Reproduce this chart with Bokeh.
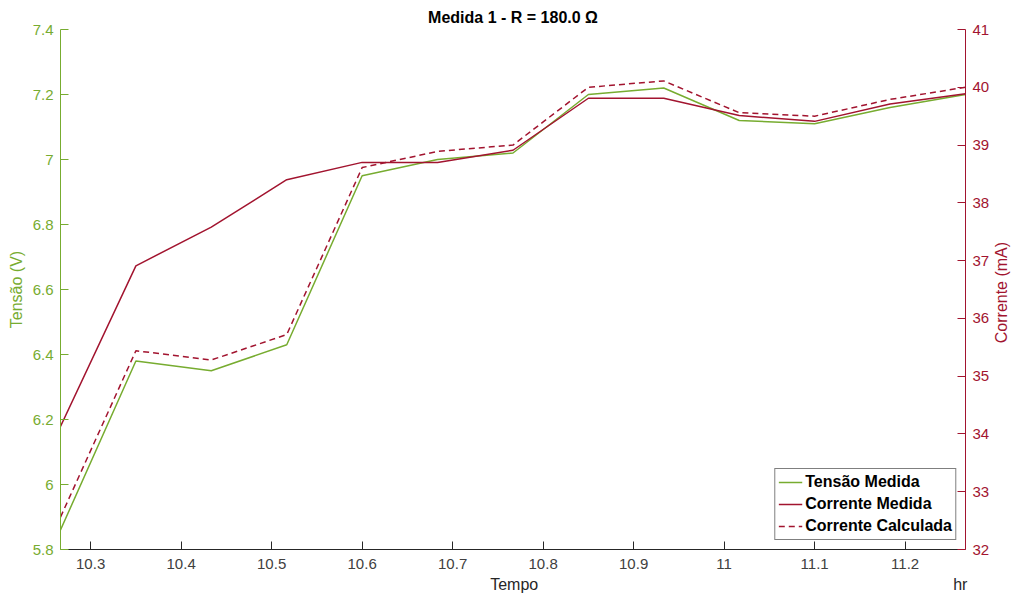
import math
from bokeh.plotting import figure
from bokeh.models import (Range1d, LinearAxis, FixedTicker, NumeralTickFormatter,
                          CustomJSTickFormatter, Legend, LegendItem)
from bokeh.embed import file_html
from bokeh.resources import INLINE

# ---- data ----
tempo = [10.2667, 10.35, 10.4333, 10.5167, 10.6, 10.6833, 10.7667,
         10.85, 10.9333, 11.0167, 11.1, 11.1833, 11.2667]
tensao_medida = [5.86, 6.38, 6.35, 6.43, 6.95, 7.00, 7.02,
                 7.20, 7.22, 7.12, 7.11, 7.16, 7.20]
corrente_medida = [34.13, 36.91, 37.58, 38.40, 38.70, 38.70, 38.91,
                   39.81, 39.81, 39.51, 39.41, 39.71, 39.89]
corrente_calculada = [32.56, 35.44, 35.28, 35.72, 38.61, 38.89, 39.00,
                      40.00, 40.11, 39.56, 39.50, 39.79, 40.00]
x_ticks = [10.3, 10.4, 10.5, 10.6, 10.7, 10.8, 10.9, 11.0, 11.1, 11.2]
v_ticks = [5.8, 6.0, 6.2, 6.4, 6.6, 6.8, 7.0, 7.2, 7.4]
i_ticks = [32, 33, 34, 35, 36, 37, 38, 39, 40, 41]
x_label_texts = ["Tempo", "hr"]
x_label_pos = [10.768, 11.261]
i_label_text = ["Corrente (mA)"]
i_label_pos = [35.57]

GREEN = "#77AC30"
RED = "#A2142F"
DARK = "#262626"
FONT = "Liberation Sans"

p = figure(width=1021, height=599, output_backend="svg", toolbar_location=None,
           x_range=Range1d(10.2667, 11.2667), y_range=Range1d(5.8, 7.4),
           min_border_left=60, min_border_right=56, min_border_top=29,
           min_border_bottom=50, x_axis_type=None, y_axis_type=None)
p.outline_line_color = None
p.background_fill_color = "white"
p.border_fill_color = "white"

p.extra_y_ranges = {"i": Range1d(32, 41)}

# bottom axis (ticks and tick labels)
xax = LinearAxis(ticker=FixedTicker(ticks=x_ticks),
                 formatter=NumeralTickFormatter(format="0.[0]"))
xax.axis_line_color = DARK
xax.major_tick_line_color = DARK
xax.major_tick_in = 8
xax.major_tick_out = 0
xax.minor_tick_line_color = None
xax.major_label_standoff = 9
xax.major_label_text_color = "#404040"
xax.major_label_text_font = FONT
xax.major_label_text_font_size = "15px"
p.add_layout(xax, "below")

# second row below: axis title "Tempo" and unit "hr"
xax2 = LinearAxis(ticker=FixedTicker(ticks=x_label_pos),
                  formatter=CustomJSTickFormatter(
                      args=dict(names=x_label_texts),
                      code="return names[index];"))
xax2.axis_line_color = None
xax2.major_tick_line_color = None
xax2.minor_tick_line_color = None
xax2.major_tick_in = 0
xax2.major_tick_out = 0
xax2.major_label_standoff = 4
xax2.major_label_text_color = DARK
xax2.major_label_text_font = FONT
xax2.major_label_text_font_size = "16px"
p.add_layout(xax2, "below")

# left axis
yax = LinearAxis(ticker=FixedTicker(ticks=v_ticks),
                 formatter=NumeralTickFormatter(format="0.[0]"))
yax.axis_label = "Tensão (V)"
yax.axis_line_color = GREEN
yax.major_tick_line_color = GREEN
yax.major_tick_in = 8
yax.major_tick_out = 0
yax.minor_tick_line_color = None
yax.major_label_standoff = 7
yax.major_label_text_color = GREEN
yax.major_label_text_font = FONT
yax.major_label_text_font_size = "15px"
yax.axis_label_text_font = FONT
yax.axis_label_text_font_size = "16px"
yax.axis_label_text_font_style = "normal"
yax.axis_label_text_color = GREEN
yax.axis_label_standoff = 5
p.add_layout(yax, "left")

# right axis
rax = LinearAxis(y_range_name="i", ticker=FixedTicker(ticks=i_ticks))
rax.axis_line_color = RED
rax.major_tick_line_color = RED
rax.major_tick_in = 8
rax.major_tick_out = 0
rax.minor_tick_line_color = None
rax.major_label_standoff = 7
rax.major_label_text_color = RED
rax.major_label_text_font = FONT
rax.major_label_text_font_size = "15px"
p.add_layout(rax, "right")

# right axis title, drawn as a rotated label reading upward
rax2 = LinearAxis(y_range_name="i", ticker=FixedTicker(ticks=i_label_pos),
                  formatter=CustomJSTickFormatter(
                      args=dict(names=i_label_text),
                      code="return names[index];"))
rax2.axis_line_color = None
rax2.major_tick_line_color = None
rax2.minor_tick_line_color = None
rax2.major_tick_in = 0
rax2.major_tick_out = 0
rax2.major_label_orientation = math.pi / 2
rax2.major_label_standoff = 9
rax2.major_label_text_color = RED
rax2.major_label_text_font = FONT
rax2.major_label_text_font_size = "16px"
p.add_layout(rax2, "right")

# grids
p.xgrid.ticker = FixedTicker(ticks=x_ticks)
p.ygrid.ticker = FixedTicker(ticks=v_ticks)
for g in (p.xgrid, p.ygrid):
    g.grid_line_color = "#dcdcdc"
    g.grid_line_width = 1

# lines
r1 = p.line(tempo, tensao_medida, line_color=GREEN, line_width=1.5)
r2 = p.line(tempo, corrente_medida, line_color=RED, line_width=1.5, y_range_name="i")
r3 = p.line(tempo, corrente_calculada, line_color=RED, line_width=1.5,
            line_dash="6 4", y_range_name="i")

legend = Legend(items=[LegendItem(label="Tensão Medida", renderers=[r1]),
                       LegendItem(label="Corrente Medida", renderers=[r2]),
                       LegendItem(label="Corrente Calculada", renderers=[r3])],
                location="bottom_right")
legend.border_line_color = "black"
legend.border_line_width = 1
legend.background_fill_color = "white"
legend.background_fill_alpha = 1
legend.label_text_font = FONT
legend.label_text_font_size = "16px"
legend.label_text_font_style = "bold"
legend.label_text_color = "black"
legend.glyph_width = 24
legend.glyph_height = 20
legend.label_height = 20
legend.spacing = 2
legend.padding = 3
legend.margin = 9
legend.label_standoff = 3
p.add_layout(legend)

# title
p.title.text = "Medida 1 - R = 180.0 Ω"
p.title.align = "center"
p.title.text_font = FONT
p.title.text_font_size = "16px"
p.title.text_font_style = "bold"
p.title.text_color = "black"
p.title.standoff = 7

open("out.html", "w").write(file_html(p, INLINE))
